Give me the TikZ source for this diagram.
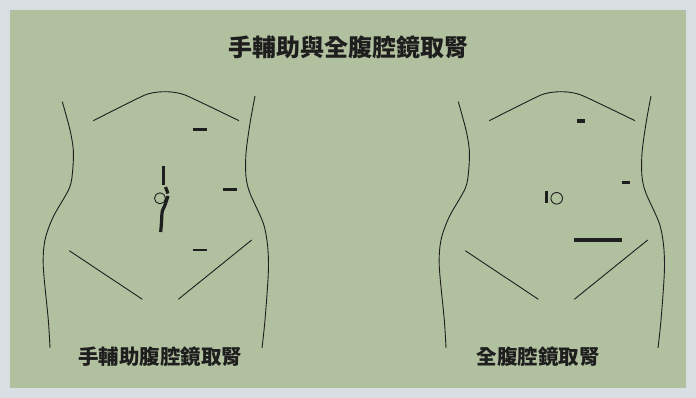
\documentclass[tikz,border=0pt]{standalone}
\usepackage{fontspec}
\newfontfamily\cjkfont{Noto Sans CJK TC}
\definecolor{frame}{HTML}{D9DEE2}
\definecolor{panel}{HTML}{B1C09F}
\definecolor{ink}{HTML}{1E1E1E}
\tikzset{
  outline/.style={draw=ink, line width=0.9pt},
  incision/.style={draw=ink, line width=3.2pt},
  fineincision/.style={draw=ink, line width=1.2pt},
  navel/.style={draw=ink, line width=0.9pt},
  heading/.style={text=ink, font=\cjkfont\bfseries\fontsize{24}{27}\selectfont, inner sep=0pt},
  caption/.style={text=ink, font=\cjkfont\bfseries\fontsize{20.5}{23}\selectfont, inner sep=0pt}
}
% torso outline in pixel units, origin top-left
\newcommand{\torso}{%
  \draw[outline] plot[smooth, tension=0.5] coordinates {(62.3,101.7) (70,130) (73.3,150) (72.7,170) (69.3,188.3) (53.3,216.7) (45,240) (43.3,266.7) (48.3,320) (50,348)};
  \draw[outline] plot[smooth, tension=0.5] coordinates {(255,96) (250,123.3) (246,153.3) (246,176.7) (250,193.3) (263.3,223.3) (267.7,246.7) (268.3,273.3) (265,320) (262,348)};
  \draw[outline] plot[smooth, tension=0.35] coordinates {(93.3,120.7) (145,95) (165,91.7) (185,95) (239,120.7)};
  \draw[outline] (69.3,250.7) -- (142.3,299.3);
  \draw[outline] (178.3,299.3) -- (251.7,240);
}
\begin{document}
\begin{tikzpicture}[x=1pt, y=-1pt]
  \fill[frame] (0,0) rectangle (696,398);
  \fill[panel] (10,10) rectangle (686,388);
  \useasboundingbox (0,0) rectangle (696,398);

  \node[heading] (title) at (348,47) {手輔助與全腹腔鏡取腎};

  % hand-assisted laparoscopic nephrectomy
  \begin{scope}
    \torso
    \draw[incision] (192.7,129.3) -- (206.7,129.3);
    \draw[incision] (222.7,189.3) -- (237.3,189.3);
    \draw[fineincision] (192.7,250) -- (206.7,250);
    \draw[incision] (163.5,166) -- (163.5,185);
    \draw[incision] (165.5,187) -- (168,193.5);
    \draw[incision] plot[smooth, tension=0.6] coordinates {(168,196) (165,205) (162.3,211) (161.5,222) (160.7,232)};
    \draw[navel] (160,198.3) circle[radius=5.5];
  \end{scope}
  \node[caption] (leftcap) at (160,357) {手輔助腹腔鏡取腎};

  % total laparoscopic nephrectomy
  \begin{scope}[xshift=396pt]
    \torso
  \end{scope}
  \draw[incision] (577.3,121) -- (585,121);
  \draw[incision] (622.3,182.3) -- (630,182.3);
  \draw[incision] (546.7,191) -- (546.7,203.3);
  \draw[navel] (556.7,198.3) circle[radius=5.8];
  \draw[incision] (574.3,240) -- (622.3,240);
  \node[caption] (rightcap) at (538,357) {全腹腔鏡取腎};
\end{tikzpicture}
\end{document}
